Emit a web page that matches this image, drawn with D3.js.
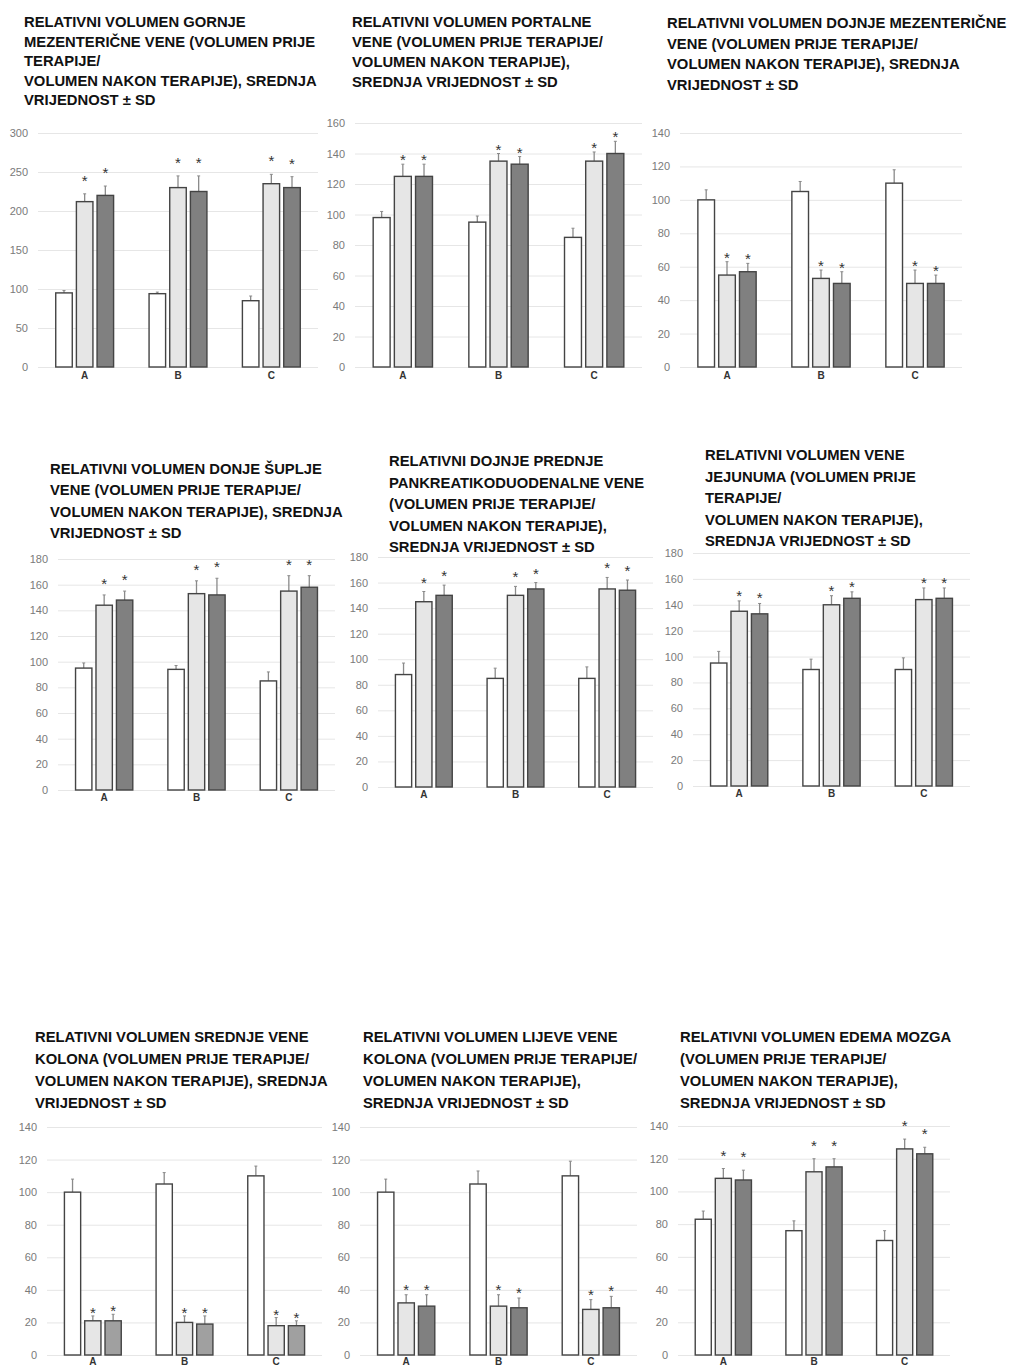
<!DOCTYPE html>
<html>
<head>
<meta charset="utf-8">
<script src="https://cdn.jsdelivr.net/npm/d3@7"></script>
<style>
    body { margin: 0; background: #fff; }
    .title { font-family: "Liberation Sans", Arial, sans-serif; font-weight: bold; font-size: 14.8px; fill: #111; }
    .tick-lbl { font-family: "Liberation Sans", Arial, sans-serif; font-size: 11px; fill: #7a7a7a; }
    .cat-lbl { font-family: "Liberation Sans", Arial, sans-serif; font-size: 10px; font-weight: bold; fill: #333; }
    .star { font-family: "Liberation Sans", Arial, sans-serif; font-size: 15px; fill: #333; }
</style>
</head>
<body>
<svg id="chart" width="1011" height="1367"></svg>
<script>
var categories = ["A", "B", "C"];

// each value array is [white, light grey, dark grey] per category A, B, C
var gornjeMean = [[95, 94, 85], [212, 230, 235], [220, 225, 230]];
var gornjeSd = [[3, 2, 6], [10, 15, 12], [12, 20, 14]];
var gornjeTitle = ["RELATIVNI VOLUMEN GORNJE", "MEZENTERIČNE VENE (VOLUMEN PRIJE", "TERAPIJE/", "VOLUMEN NAKON TERAPIJE), SREDNJA", "VRIJEDNOST ± SD"];

var portalnaMean = [[98, 95, 85], [125, 135, 135], [125, 133, 140]];
var portalnaSd = [[4, 4, 6], [8, 5, 6], [8, 5, 8]];
var portalnaTitle = ["RELATIVNI VOLUMEN PORTALNE", "VENE (VOLUMEN PRIJE TERAPIJE/", "VOLUMEN NAKON TERAPIJE),", "SREDNJA VRIJEDNOST ± SD"];

var donjaMezMean = [[100, 105, 110], [55, 53, 50], [57, 50, 50]];
var donjaMezSd = [[6, 6, 8], [8, 5, 8], [5, 7, 5]];
var donjaMezTitle = ["RELATIVNI VOLUMEN DOJNJE MEZENTERIČNE", "VENE (VOLUMEN PRIJE TERAPIJE/", "VOLUMEN NAKON TERAPIJE), SREDNJA", "VRIJEDNOST ± SD"];

var supljaMean = [[95, 94, 85], [144, 153, 155], [148, 152, 158]];
var supljaSd = [[4, 3, 7], [8, 10, 12], [7, 13, 9]];
var supljaTitle = ["RELATIVNI VOLUMEN DONJE ŠUPLJE", "VENE (VOLUMEN PRIJE TERAPIJE/", "VOLUMEN NAKON TERAPIJE), SREDNJA", "VRIJEDNOST ± SD"];

var pankreasMean = [[88, 85, 85], [145, 150, 155], [150, 155, 154]];
var pankreasSd = [[9, 8, 9], [8, 7, 9], [8, 5, 8]];
var pankreasTitle = ["RELATIVNI DOJNJE PREDNJE", "PANKREATIKODUODENALNE VENE", "(VOLUMEN PRIJE TERAPIJE/", "VOLUMEN NAKON TERAPIJE),", "SREDNJA VRIJEDNOST ± SD"];

var jejunumMean = [[95, 90, 90], [135, 140, 144], [133, 145, 145]];
var jejunumSd = [[9, 8, 9], [8, 7, 9], [8, 5, 8]];
var jejunumTitle = ["RELATIVNI VOLUMEN VENE", "JEJUNUMA (VOLUMEN PRIJE", "TERAPIJE/", "VOLUMEN NAKON TERAPIJE),", "SREDNJA VRIJEDNOST ± SD"];

var srednjaKolMean = [[100, 105, 110], [21, 20, 18], [21, 19, 18]];
var srednjaKolSd = [[8, 7, 6], [3, 4, 5], [4, 5, 3]];
var srednjaKolTitle = ["RELATIVNI VOLUMEN SREDNJE VENE", "KOLONA (VOLUMEN PRIJE TERAPIJE/", "VOLUMEN NAKON TERAPIJE), SREDNJA", "VRIJEDNOST ± SD"];

var lijevaKolMean = [[100, 105, 110], [32, 30, 28], [30, 29, 29]];
var lijevaKolSd = [[8, 8, 9], [5, 7, 6], [7, 6, 7]];
var lijevaKolTitle = ["RELATIVNI VOLUMEN LIJEVE VENE", "KOLONA (VOLUMEN PRIJE TERAPIJE/", "VOLUMEN NAKON TERAPIJE),", "SREDNJA VRIJEDNOST ± SD"];

var edemMean = [[83, 76, 70], [108, 112, 126], [107, 115, 123]];
var edemSd = [[5, 6, 6], [6, 8, 6], [6, 5, 4]];
var edemTitle = ["RELATIVNI VOLUMEN EDEMA MOZGA", "(VOLUMEN PRIJE TERAPIJE/", "VOLUMEN NAKON TERAPIJE),", "SREDNJA VRIJEDNOST ± SD"];

var yMax = [300, 160, 140, 180, 180, 180, 140, 140, 140];
var yStep = [50, 20, 20, 20, 20, 20, 20, 20, 20];

// panel geometry (page pixels)
var layout = [
    { tx: 24, ty: 27, lh: 19.5, x0: 38, x1: 318, yz: 367, yt: 133, so: 16, cp: 5 },
    { tx: 352, ty: 27, lh: 20, x0: 355, x1: 642, yz: 367, yt: 123, so: 7, cp: 5 },
    { tx: 667, ty: 28, lh: 20.5, x0: 680, x1: 962, yz: 367, yt: 133, so: 7, cp: 5 },
    { tx: 50, ty: 474, lh: 21.3, x0: 58, x1: 335, yz: 790, yt: 559, so: 14, cp: 4 },
    { tx: 389, ty: 466, lh: 21.5, x0: 378, x1: 653, yz: 787, yt: 557, so: 12, cp: 4 },
    { tx: 705, ty: 460, lh: 21.5, x0: 693, x1: 970, yz: 786, yt: 553, so: 8, cp: 4 },
    { tx: 35, ty: 1042, lh: 22, x0: 47, x1: 322, yz: 1355, yt: 1127, so: 6, cp: 3 },
    { tx: 363, ty: 1042, lh: 22, x0: 360, x1: 637, yz: 1355, yt: 1127, so: 8, cp: 3 },
    { tx: 680, ty: 1042, lh: 22, x0: 678, x1: 950, yz: 1355, yt: 1126, so: 16, cp: 3 }
];

var panels = [
    { title: gornjeTitle, mean: gornjeMean, sd: gornjeSd },
    { title: portalnaTitle, mean: portalnaMean, sd: portalnaSd },
    { title: donjaMezTitle, mean: donjaMezMean, sd: donjaMezSd },
    { title: supljaTitle, mean: supljaMean, sd: supljaSd },
    { title: pankreasTitle, mean: pankreasMean, sd: pankreasSd },
    { title: jejunumTitle, mean: jejunumMean, sd: jejunumSd },
    { title: srednjaKolTitle, mean: srednjaKolMean, sd: srednjaKolSd },
    { title: lijevaKolTitle, mean: lijevaKolMean, sd: lijevaKolSd },
    { title: edemTitle, mean: edemMean, sd: edemSd }
];

var fills = ["#ffffff", "#e6e6e6", "#808080"];

var svg = d3.select("#chart");
svg.append("rect").attr("width", 1011).attr("height", 1367).attr("fill", "#fff");

panels.forEach(function (p, i) {
    var L = layout[i];
    var g = svg.append("g");
    var barFills = fills.slice();
    if (i == 6) {
        barFills[2] = "#a0a0a0";
    }

    // title
    g.append("text")
        .attr("class", "title")
        .selectAll("tspan")
        .data(p.title)
        .join("tspan")
        .attr("x", L.tx)
        .attr("y", function (d, k) { return L.ty + k * L.lh; })
        .text(function (d) { return d; });

    var y = d3.scaleLinear().domain([0, yMax[i]]).range([L.yz, L.yt]);
    var x = d3.scaleBand().domain(categories).range([L.x0, L.x1]);
    var inner = d3.scaleBand().domain([0, 1, 2])
        .range([x.bandwidth() * 0.19, x.bandwidth() * 0.81])
        .paddingInner(0.2);

    // gridlines + tick labels
    var yAxis = d3.axisLeft(y)
        .tickValues(d3.range(0, yMax[i] + 1, yStep[i]))
        .tickSize(-(L.x1 - L.x0))
        .tickPadding(10);
    var ax = g.append("g")
        .attr("transform", "translate(" + L.x0 + ",0)")
        .call(yAxis);
    ax.select(".domain").remove();
    ax.selectAll(".tick line").attr("stroke", "#e6e6e6").attr("stroke-width", 1);
    ax.selectAll(".tick text").attr("class", "tick-lbl").attr("font-family", null).attr("font-size", null);

    // category labels
    var xAxis = d3.axisBottom(x).tickSize(0).tickPadding(L.cp);
    var cx = g.append("g")
        .attr("transform", "translate(0," + L.yz + ")")
        .call(xAxis);
    cx.select(".domain").remove();
    cx.selectAll(".tick text").attr("class", "cat-lbl").attr("font-family", null).attr("font-size", null);

    var rows = [];
    categories.forEach(function (c, ci) {
        for (var s = 0; s < 3; s++) {
            rows.push({ cat: c, s: s, v: p.mean[s][ci], sd: p.sd[s][ci] });
        }
    });

    var bx = function (d) { return x(d.cat) + inner(d.s); };
    var mid = function (d) { return bx(d) + inner.bandwidth() / 2; };

    // error bars (upper only)
    g.selectAll(".err")
        .data(rows)
        .join("line")
        .attr("x1", mid).attr("x2", mid)
        .attr("y1", function (d) { return y(d.v); })
        .attr("y2", function (d) { return y(d.v + d.sd); })
        .attr("stroke", "#8a8a8a")
        .attr("stroke-width", 1.3);
    g.selectAll(".cap")
        .data(rows)
        .join("line")
        .attr("x1", function (d) { return mid(d) - 1.5; })
        .attr("x2", function (d) { return mid(d) + 1.5; })
        .attr("y1", function (d) { return y(d.v + d.sd); })
        .attr("y2", function (d) { return y(d.v + d.sd); })
        .attr("stroke", "#8a8a8a")
        .attr("stroke-width", 1);

    // bars
    g.selectAll(".bar")
        .data(rows)
        .join("rect")
        .attr("x", bx)
        .attr("y", function (d) { return y(d.v); })
        .attr("width", inner.bandwidth())
        .attr("height", function (d) { return L.yz - y(d.v); })
        .attr("fill", function (d) { return barFills[d.s]; })
        .attr("stroke", "#444")
        .attr("stroke-width", 1.4);

    // significance stars on treated groups
    g.selectAll(".star")
        .data(rows.filter(function (d) { return d.s > 0; }))
        .join("text")
        .attr("class", "star")
        .attr("text-anchor", "middle")
        .attr("x", mid)
        .attr("y", function (d) { return y(d.v + d.sd) - L.so + 8; })
        .text("*");
});
</script>
</body>
</html>
